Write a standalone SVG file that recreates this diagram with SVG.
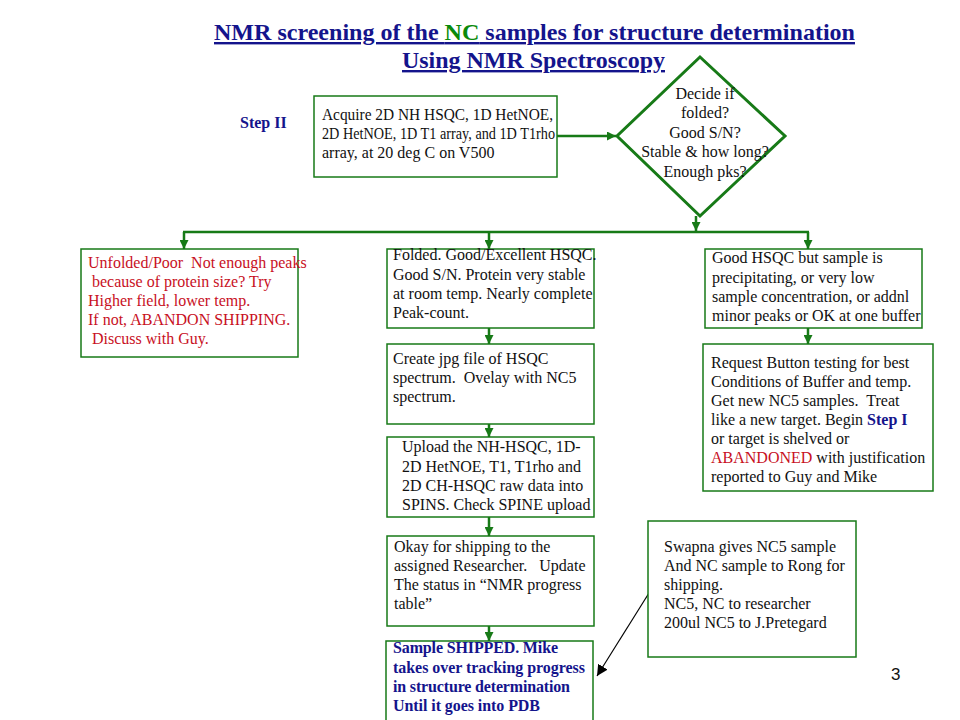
<svg xmlns="http://www.w3.org/2000/svg" width="960" height="720" viewBox="0 0 960 720">
<style>
.t{font-family:"Liberation Serif","Times New Roman",serif;font-size:16px;fill:#111;white-space:pre}
.r{fill:#c8101e}
.b{fill:#14148c;font-weight:bold}
.box{fill:#fff;stroke:#177a17;stroke-width:1.5}
.dia{fill:#fff;stroke:#177a17;stroke-width:3}
.c{stroke:#177a17;stroke-width:2.5;fill:none}
.title{font-family:"Liberation Serif","Times New Roman",serif;font-size:24px;font-weight:bold;fill:#14148c;text-decoration:underline}
</style>
<defs>
<marker id="ag" viewBox="0 0 10 10" refX="10" refY="5" markerWidth="9" markerHeight="9" markerUnits="userSpaceOnUse" orient="auto"><path d="M0,0 L10,5 L0,10 z" fill="#177a17"/></marker>
<marker id="ak" viewBox="0 0 10 10" refX="10" refY="5" markerWidth="11" markerHeight="11" markerUnits="userSpaceOnUse" orient="auto"><path d="M0,0 L10,5 L0,10 z" fill="#000"/></marker>
</defs>
<rect width="960" height="720" fill="#fff"/>

<g id="title">
<text class="title" x="214" y="40" textLength="641" lengthAdjust="spacingAndGlyphs">NMR screening of the <tspan fill="#0a8a0a">NC</tspan> samples for structure determination</text>
<text class="title" x="402" y="68" textLength="263" lengthAdjust="spacingAndGlyphs">Using NMR Spectroscopy</text>
</g>
<g id="step2"><text class="t b" x="240" y="128" font-size="15">Step II</text></g>

<g id="connectors">
<line class="c" x1="557" y1="136" x2="616" y2="136" marker-end="url(#ag)"/>
<line class="c" x1="696" y1="216" x2="696" y2="231" marker-end="url(#ag)"/>
<line class="c" x1="183" y1="232" x2="809" y2="232" stroke-width="3"/>
<line class="c" x1="184" y1="232" x2="184" y2="249" marker-end="url(#ag)"/>
<line class="c" x1="489" y1="232" x2="489" y2="249" marker-end="url(#ag)"/>
<line class="c" x1="808" y1="232" x2="808" y2="249" marker-end="url(#ag)"/>
<line class="c" x1="489" y1="328" x2="489" y2="344" marker-end="url(#ag)"/>
<line class="c" x1="808" y1="328" x2="808" y2="344" marker-end="url(#ag)"/>
<line class="c" x1="489" y1="424" x2="489" y2="437" marker-end="url(#ag)"/>
<line class="c" x1="489" y1="517" x2="489" y2="536" marker-end="url(#ag)"/>
<line class="c" x1="489" y1="626" x2="489" y2="641" marker-end="url(#ag)"/>
<line x1="649" y1="593" x2="597" y2="676" stroke="#000" stroke-width="1.2" marker-end="url(#ak)"/>
</g>

<g id="acquire">
<rect class="box" x="314" y="96" width="243" height="81"/>
<text class="t" x="322" y="120" textLength="231" lengthAdjust="spacingAndGlyphs">Acquire 2D NH HSQC, 1D HetNOE,</text>
<text class="t" x="322" y="139" textLength="233" lengthAdjust="spacingAndGlyphs">2D HetNOE, 1D T1 array, and 1D T1rho</text>
<text class="t" x="322" y="158">array, at 20 deg C on V500</text>
</g>

<g id="decide">
<polygon class="dia" points="700,57 785,136 700,216 617,136"/>
<g text-anchor="middle">
<text class="t" x="705" y="99">Decide if</text>
<text class="t" x="705" y="118">folded?</text>
<text class="t" x="705" y="138">Good S/N?</text>
<text class="t" x="705" y="157">Stable &amp; how long?</text>
<text class="t" x="705" y="177">Enough pks?</text>
</g>
</g>

<g id="unfolded">
<rect class="box" x="81" y="249" width="217" height="108"/>
<text class="t r" x="88" y="268">Unfolded/Poor  Not enough peaks</text>
<text class="t r" x="88" y="287"> because of protein size? Try</text>
<text class="t r" x="88" y="306">Higher field, lower temp.</text>
<text class="t r" x="88" y="325">If not, ABANDON SHIPPING.</text>
<text class="t r" x="88" y="344"> Discuss with Guy.</text>
</g>

<g id="folded">
<rect class="box" x="387" y="249" width="207" height="79"/>
<text class="t" x="393" y="260">Folded. Good/Excellent HSQC.</text>
<text class="t" x="393" y="280">Good S/N. Protein very stable</text>
<text class="t" x="393" y="299">at room temp. Nearly complete</text>
<text class="t" x="393" y="318">Peak-count.</text>
</g>

<g id="precipitating">
<rect class="box" x="705" y="249" width="217" height="79"/>
<text class="t" x="712" y="263">Good HSQC but sample is</text>
<text class="t" x="712" y="283">precipitating, or very low</text>
<text class="t" x="712" y="302">sample concentration, or addnl</text>
<text class="t" x="712" y="321">minor peaks or OK at one buffer</text>
</g>

<g id="jpg">
<rect class="box" x="387" y="344" width="207" height="80"/>
<text class="t" x="393" y="364">Create jpg file of HSQC</text>
<text class="t" x="393" y="383">spectrum.  Ovelay with NC5</text>
<text class="t" x="393" y="402">spectrum.</text>
</g>

<g id="button">
<rect class="box" x="703" y="344" width="230" height="147"/>
<text class="t" x="711" y="368">Request Button testing for best</text>
<text class="t" x="711" y="387">Conditions of Buffer and temp.</text>
<text class="t" x="711" y="406">Get new NC5 samples.  Treat</text>
<text class="t" x="711" y="425">like a new target. Begin <tspan class="b">Step I</tspan></text>
<text class="t" x="711" y="444">or target is shelved or</text>
<text class="t" x="711" y="463"><tspan class="r">ABANDONED</tspan> with justification</text>
<text class="t" x="711" y="482">reported to Guy and Mike</text>
</g>

<g id="upload">
<rect class="box" x="387" y="437" width="207" height="80"/>
<text class="t" x="402" y="452">Upload the NH-HSQC, 1D-</text>
<text class="t" x="402" y="472">2D HetNOE, T1, T1rho and</text>
<text class="t" x="402" y="491">2D CH-HSQC raw data into</text>
<text class="t" x="402" y="510">SPINS. Check SPINE upload</text>
</g>

<g id="okay">
<rect class="box" x="387" y="536" width="207" height="90"/>
<text class="t" x="394" y="552">Okay for shipping to the</text>
<text class="t" x="394" y="571">assigned Researcher.   Update</text>
<text class="t" x="394" y="590">The status in “NMR progress</text>
<text class="t" x="394" y="609">table”</text>
</g>

<g id="shipped">
<rect class="box" x="386" y="641" width="207" height="82"/>
<text class="t b" x="393" y="653" font-size="15" textLength="165" lengthAdjust="spacing">Sample SHIPPED. Mike</text>
<text class="t b" x="393" y="673" font-size="15" textLength="192" lengthAdjust="spacing">takes over tracking progress</text>
<text class="t b" x="393" y="692" font-size="15" textLength="177" lengthAdjust="spacing">in structure determination</text>
<text class="t b" x="393" y="711" font-size="15" textLength="147" lengthAdjust="spacing">Until it goes into PDB</text>
</g>

<g id="swapna">
<rect class="box" x="648" y="521" width="208" height="136"/>
<text class="t" x="664" y="552">Swapna gives NC5 sample</text>
<text class="t" x="664" y="571">And NC sample to Rong for</text>
<text class="t" x="664" y="590">shipping.</text>
<text class="t" x="664" y="609">NC5, NC to researcher</text>
<text class="t" x="664" y="628">200ul NC5 to J.Pretegard</text>
</g>

<g id="page"><text x="891" y="680" font-family="Liberation Sans, Arial, sans-serif" font-size="17" fill="#111">3</text></g>
</svg>
